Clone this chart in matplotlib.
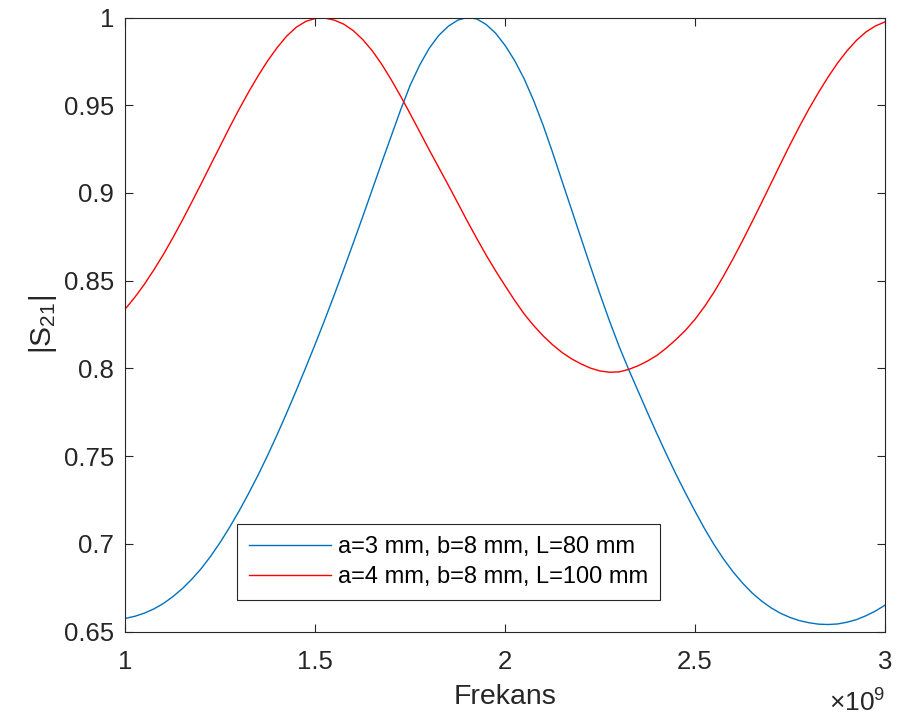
import numpy as np
import matplotlib
matplotlib.use("Agg")
import matplotlib.pyplot as plt
from matplotlib.ticker import FuncFormatter

plt.rcParams['font.family'] = ['Liberation Sans', 'DejaVu Sans']
plt.rcParams['mathtext.default'] = 'regular'

# frequency grid in GHz
freq = [1.000, 1.025, 1.050, 1.075, 1.100, 1.125, 1.150, 1.175, 1.200, 1.225,
        1.250, 1.275, 1.300, 1.325, 1.350, 1.375, 1.400, 1.425, 1.450, 1.475,
        1.500, 1.525, 1.550, 1.575, 1.600, 1.625, 1.650, 1.675, 1.700, 1.725,
        1.750, 1.775, 1.800, 1.825, 1.850, 1.875, 1.900, 1.925, 1.950, 1.975,
        2.000, 2.025, 2.050, 2.075, 2.100, 2.125, 2.150, 2.175, 2.200, 2.225,
        2.250, 2.275, 2.300, 2.325, 2.350, 2.375, 2.400, 2.425, 2.450, 2.475,
        2.500, 2.525, 2.550, 2.575, 2.600, 2.625, 2.650, 2.675, 2.700, 2.725,
        2.750, 2.775, 2.800, 2.825, 2.850, 2.875, 2.900, 2.925, 2.950, 2.975, 3.000]

# |S21| for a=3 mm, b=8 mm, L=80 mm
s21_a3 = [0.6575, 0.6587, 0.6605, 0.6629, 0.6660, 0.6699, 0.6745, 0.6799, 0.6860, 0.6931,
          0.7010, 0.7097, 0.7190, 0.7290, 0.7395, 0.7507, 0.7625, 0.7748, 0.7875, 0.8006,
          0.8140, 0.8278, 0.8420, 0.8566, 0.8715, 0.8866, 0.9020, 0.9174, 0.9325, 0.9476,
          0.9615, 0.9730, 0.9825, 0.9898, 0.9950, 0.9985, 1.0000, 0.9992, 0.9960, 0.9910,
          0.9840, 0.9754, 0.9650, 0.9526, 0.9385, 0.9229, 0.9065, 0.8903, 0.8740, 0.8578,
          0.8420, 0.8268, 0.8125, 0.7994, 0.7870, 0.7746, 0.7625, 0.7508, 0.7395, 0.7288,
          0.7185, 0.7086, 0.6995, 0.6913, 0.6840, 0.6776, 0.6720, 0.6674, 0.6635, 0.6604,
          0.6580, 0.6562, 0.6550, 0.6542, 0.6540, 0.6543, 0.6553, 0.6568, 0.6590, 0.6617, 0.6650]

# |S21| for a=4 mm, b=8 mm, L=100 mm
s21_a4 = [0.8340, 0.8406, 0.8480, 0.8562, 0.8650, 0.8745, 0.8845, 0.8949, 0.9055, 0.9163,
          0.9270, 0.9377, 0.9480, 0.9578, 0.9670, 0.9755, 0.9830, 0.9895, 0.9945, 0.9978,
          0.9995, 0.9997, 0.9985, 0.9962, 0.9925, 0.9874, 0.9810, 0.9733, 0.9645, 0.9550,
          0.9450, 0.9348, 0.9245, 0.9145, 0.9045, 0.8943, 0.8840, 0.8741, 0.8645, 0.8555,
          0.8470, 0.8387, 0.8310, 0.8244, 0.8185, 0.8134, 0.8090, 0.8054, 0.8025, 0.8001,
          0.7985, 0.7978, 0.7980, 0.7994, 0.8015, 0.8042, 0.8075, 0.8117, 0.8165, 0.8218,
          0.8280, 0.8353, 0.8435, 0.8527, 0.8625, 0.8728, 0.8835, 0.8944, 0.9055, 0.9166,
          0.9275, 0.9380, 0.9480, 0.9573, 0.9660, 0.9740, 0.9810, 0.9870, 0.9918, 0.9952, 0.9975]

labels = ['a=3 mm, b=8 mm, L=80 mm', 'a=4 mm, b=8 mm, L=100 mm']
colors = ['#0072BD', '#FF0000']

fig = plt.figure(figsize=(8.98, 7.21), dpi=100)
ax = fig.add_axes([0.1397, 0.1241, 0.8458, 0.8516])

f_hz = np.array(freq) * 1e9
ax.plot(f_hz, s21_a3, color=colors[0], lw=1.0, label=labels[0])
ax.plot(f_hz, s21_a4, color=colors[1], lw=1.0, label=labels[1])

ax.set_xlim(1e9, 3e9)
ax.set_ylim(0.65, 1.0)
ax.set_xticks(np.arange(1e9, 3.01e9, 0.5e9))
ax.set_yticks(np.arange(0.65, 1.001, 0.05))
ax.xaxis.set_major_formatter(FuncFormatter(lambda v, p: '%g' % (v / 1e9)))
ax.yaxis.set_major_formatter(FuncFormatter(lambda v, p: '%g' % round(v, 2)))

axcol = '#262626'
for sp in ax.spines.values():
    sp.set_color(axcol)
    sp.set_linewidth(0.8)
ax.tick_params(direction='in', top=True, right=True, length=6, width=0.8,
               color=axcol, labelcolor=axcol, labelsize=18.5)
ax.tick_params(axis='x', pad=13)
ax.tick_params(axis='y', pad=8)

ax.set_xlabel('Frekans', fontsize=20.5, color=axcol, labelpad=7.5)
ax.set_ylabel('|S$_{21}$|', fontsize=21.5, color=axcol, labelpad=4)
ax.text(1.0, -0.095, r'$\times$10$^{9}$', transform=ax.transAxes, ha='right', va='top',
        fontsize=19, color=axcol)

leg = ax.legend(loc='lower left', bbox_to_anchor=(0.1466, 0.0513), borderaxespad=0,
                fontsize=17, handlelength=3.5, handletextpad=0.3, labelspacing=0.35,
                borderpad=0.5, fancybox=False, framealpha=1, edgecolor=axcol)
leg.get_frame().set_linewidth(0.8)

fig.savefig('out.png', dpi=100)
